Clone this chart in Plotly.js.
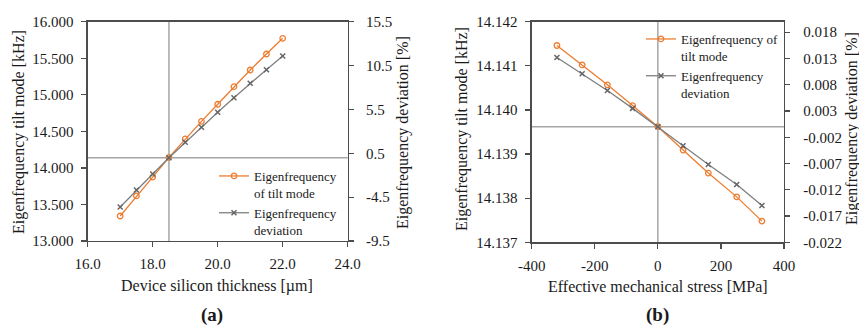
<!DOCTYPE html>
<html>
<head>
<meta charset="utf-8">
<script src="https://cdn.plot.ly/plotly-3.0.1.min.js"></script>
<style>
  html, body { margin: 0; padding: 0; background: #fff; }
  #chart { width: 859px; height: 325px; }
</style>
</head>
<body>
<div id="chart"></div>
<script>
// (a) Eigenfrequency vs. device silicon thickness
const thicknessUm = [17, 17.5, 18, 18.5, 19, 19.5, 20, 20.5, 21, 21.5, 22];
const tiltFreqA = [13.342, 13.616, 13.874, 14.145, 14.398, 14.637, 14.871, 15.111, 15.339, 15.558, 15.773];
const deviationA = [-5.62, -3.69, -1.86, 0, 1.75, 3.46, 5.17, 6.84, 8.48, 10.03, 11.59];

// (b) Eigenfrequency vs. effective mechanical stress
const stressMPa = [-320, -240, -160, -80, 0, 80, 160, 250, 330];
const tiltFreqB = [14.14146, 14.14102, 14.14057, 14.14010, 14.13962, 14.13909, 14.13857, 14.13803, 14.13748];
const deviationB = [0.0132, 0.0101, 0.0069, 0.0035, 0, -0.0036, -0.0072, -0.0110, -0.0150];

// Tick labels
const xTicksA = ['16.0', '18.0', '20.0', '22.0', '24.0'];
const xValsA = [16, 18, 20, 22, 24];
const yTicksA = ['13.000', '13.500', '14.000', '14.500', '15.000', '15.500', '16.000'];
const yValsA = [13, 13.5, 14, 14.5, 15, 15.5, 16];
const y2TicksA = ['-9.5', '-4.5', '0.5', '5.5', '10.5', '15.5'];
const y2ValsA = [-9.5, -4.5, 0.5, 5.5, 10.5, 15.5];

const xTicksB = ['-400', '-200', '0', '200', '400'];
const xValsB = [-400, -200, 0, 200, 400];
const yTicksB = ['14.137', '14.138', '14.139', '14.140', '14.141', '14.142'];
const yValsB = [14.137, 14.138, 14.139, 14.140, 14.141, 14.142];
const y2TicksB = ['-0.022', '-0.017', '-0.012', '-0.007', '-0.002', '0.003', '0.008', '0.013', '0.018'];
const y2ValsB = [-0.022, -0.017, -0.012, -0.007, -0.002, 0.003, 0.008, 0.013, 0.018];

const ORANGE = '#ED7D31';
const GRAY = '#7F7F7F';
const AXIS = '#4d4d4d';
const REF = '#a6a6a6';
const FONT = 'Liberation Serif, Times New Roman, serif';
const W = 859, H = 325;

const px = v => v / W;
const py = v => 1 - v / H;

const freqMarker = { symbol: 'circle-open', size: 5.5, color: ORANGE, line: { width: 1.3, color: ORANGE } };
const devMarker = { symbol: 'x-thin-open', size: 5, color: '#666', line: { width: 1.5, color: '#666' } };

const traces = [
  { x: thicknessUm, y: tiltFreqA, xaxis: 'x', yaxis: 'y', mode: 'lines+markers',
    name: 'Eigenfrequency<br>of tilt mode', line: { color: ORANGE, width: 1.3 }, marker: freqMarker, legend: 'legend' },
  { x: thicknessUm, y: deviationA, xaxis: 'x', yaxis: 'y2', mode: 'lines+markers',
    name: 'Eigenfrequency<br>deviation', line: { color: GRAY, width: 1.3 }, marker: devMarker, legend: 'legend' },
  { x: stressMPa, y: tiltFreqB, xaxis: 'x2', yaxis: 'y3', mode: 'lines+markers',
    name: 'Eigenfrequency of<br>tilt mode', line: { color: ORANGE, width: 1.3 }, marker: freqMarker, legend: 'legend2' },
  { x: stressMPa, y: deviationB, xaxis: 'x2', yaxis: 'y4', mode: 'lines+markers',
    name: 'Eigenfrequency<br>deviation', line: { color: GRAY, width: 1.3 }, marker: devMarker, legend: 'legend2' }
];

const tickFont = { family: FONT, size: 15, color: '#1a1a1a' };
const baseAxis = {
  showgrid: false, zeroline: false, showline: true, linecolor: AXIS, linewidth: 1.3,
  ticks: 'outside', ticklen: 5, tickwidth: 1.2, tickcolor: AXIS, tickfont: tickFont,
  tickmode: 'array', fixedrange: true
};

const domXA = [px(87.7), px(347.7)];
const domYA = [py(241), py(21.7)];
const domXB = [px(531.7), px(784)];
const domYB = [py(242.3), py(21.7)];

const titleFont = { family: FONT, size: 16, color: '#1a1a1a' };
const legendFont = { family: FONT, size: 13, color: '#1a1a1a' };

const layout = {
  width: W, height: H,
  margin: { l: 0, r: 0, t: 0, b: 0 },
  paper_bgcolor: '#fff', plot_bgcolor: '#fff',
  showlegend: true,
  font: { family: FONT, color: '#1a1a1a' },
  xaxis: Object.assign({}, baseAxis, { domain: domXA, anchor: 'y', range: [16, 24],
    tickvals: xValsA, ticktext: xTicksA, mirror: true, ticklabelstandoff: 4 }),
  yaxis: Object.assign({}, baseAxis, { domain: domYA, anchor: 'x', range: [13, 16],
    tickvals: yValsA, ticktext: yTicksA, ticklabelstandoff: 5 }),
  yaxis2: Object.assign({}, baseAxis, { overlaying: 'y', side: 'right', anchor: 'x', range: [-9.5, 15.5],
    tickvals: y2ValsA, ticktext: y2TicksA, ticklabelstandoff: 9 }),
  xaxis2: Object.assign({}, baseAxis, { domain: domXB, anchor: 'y3', range: [-400, 400],
    tickvals: xValsB, ticktext: xTicksB, mirror: true, ticklabelstandoff: 4 }),
  yaxis3: Object.assign({}, baseAxis, { domain: domYB, anchor: 'x2', range: [14.137, 14.142],
    tickvals: yValsB, ticktext: yTicksB, ticklabelstandoff: 5 }),
  yaxis4: Object.assign({}, baseAxis, { overlaying: 'y3', side: 'right', anchor: 'x2', range: [-0.022, 0.020],
    tickvals: y2ValsB, ticktext: y2TicksB, ticklabelstandoff: 10 }),
  legend: {
    x: px(214), y: py(161), xanchor: 'left', yanchor: 'top',
    bgcolor: 'rgba(255,255,255,0)', borderwidth: 0, valign: 'top',
    font: legendFont, tracegroupgap: 0, itemclick: false
  },
  legend2: {
    x: px(641), y: py(24), xanchor: 'left', yanchor: 'top',
    bgcolor: 'rgba(255,255,255,0)', borderwidth: 0, valign: 'top',
    font: legendFont, tracegroupgap: 0, itemclick: false
  },
  shapes: [
    { type: 'line', xref: 'x', yref: 'y domain', x0: 18.5, x1: 18.5, y0: 0, y1: 1, line: { color: REF, width: 1.5 }, layer: 'below' },
    { type: 'line', xref: 'x domain', yref: 'y2', x0: 0, x1: 1, y0: 0, y1: 0, line: { color: REF, width: 1.5 }, layer: 'below' },
    { type: 'line', xref: 'x2', yref: 'y3 domain', x0: 0, x1: 0, y0: 0, y1: 1, line: { color: REF, width: 1.5 }, layer: 'below' },
    { type: 'line', xref: 'x2 domain', yref: 'y4', x0: 0, x1: 1, y0: 0, y1: 0, line: { color: REF, width: 1.5 }, layer: 'below' }
  ],
  annotations: [
    { text: 'Device silicon thickness [µm]', xref: 'paper', yref: 'paper', x: px(217), y: py(286),
      xanchor: 'center', yanchor: 'middle', showarrow: false, font: titleFont },
    { text: 'Eigenfrequency tilt mode [kHz]', xref: 'paper', yref: 'paper', x: px(19), y: py(132),
      xanchor: 'center', yanchor: 'middle', textangle: -90, showarrow: false, font: titleFont },
    { text: 'Eigenfrequency deviation [%]', xref: 'paper', yref: 'paper', x: px(403), y: py(133),
      xanchor: 'center', yanchor: 'middle', textangle: -90, showarrow: false, font: titleFont },
    { text: '<b>(a)</b>', xref: 'paper', yref: 'paper', x: px(212), y: py(315),
      xanchor: 'center', yanchor: 'middle', showarrow: false, font: { family: FONT, size: 19, color: '#1a1a1a' } },
    { text: 'Effective mechanical stress [MPa]', xref: 'paper', yref: 'paper', x: px(658), y: py(286),
      xanchor: 'center', yanchor: 'middle', showarrow: false, font: titleFont },
    { text: 'Eigenfrequency tilt mode [kHz]', xref: 'paper', yref: 'paper', x: px(462), y: py(129),
      xanchor: 'center', yanchor: 'middle', textangle: -90, showarrow: false, font: titleFont },
    { text: 'Eigenfrequency deviation [%]', xref: 'paper', yref: 'paper', x: px(852), y: py(129),
      xanchor: 'center', yanchor: 'middle', textangle: -90, showarrow: false, font: titleFont },
    { text: '<b>(b)</b>', xref: 'paper', yref: 'paper', x: px(657), y: py(315),
      xanchor: 'center', yanchor: 'middle', showarrow: false, font: { family: FONT, size: 19, color: '#1a1a1a' } }
  ]
};

Plotly.newPlot('chart', traces, layout, { displayModeBar: false, staticPlot: true });
</script>
</body>
</html>
